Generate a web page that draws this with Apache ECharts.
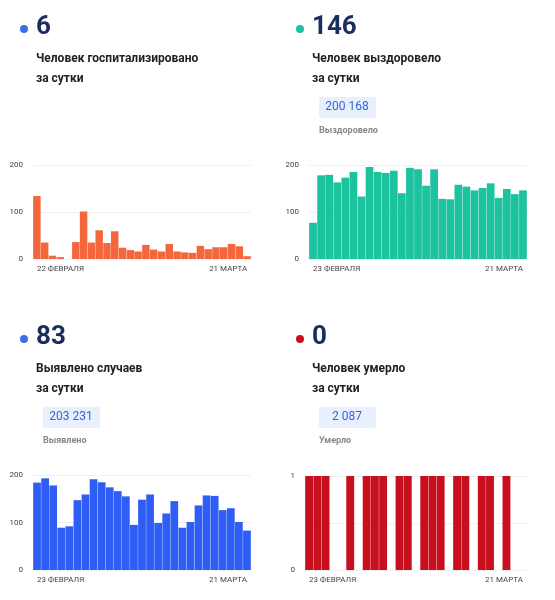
<!DOCTYPE html>
<html><head><meta charset="utf-8">
<script src="https://cdn.jsdelivr.net/npm/echarts@6/dist/echarts.min.js"></script>
<style>html,body{margin:0;background:#fff}#c{width:555px;height:600px}</style>
</head><body><div id="c"></div>
<script>
// daily values
const hospitalized = [134, 35, 7, 4, 0, 36, 101, 35, 61, 34, 59, 24, 19, 16, 30, 20, 16, 32, 16, 14, 13, 28, 21, 25, 25, 32, 27, 6]
const recovered = [77, 178, 179, 163, 173, 185, 133, 196, 185, 183, 188, 140, 194, 191, 156, 191, 128, 127, 158, 154, 146, 151, 161, 130, 149, 138, 146]
const cases = [184, 193, 178, 89, 92, 147, 159, 191, 185, 174, 166, 155, 95, 148, 159, 99, 119, 145, 89, 101, 136, 157, 156, 126, 130, 101, 83]
const deaths = [1, 1, 1, 0, 0, 1, 0, 1, 1, 1, 0, 1, 1, 0, 1, 1, 1, 0, 1, 1, 0, 1, 1, 0, 1, 0, 0]

function days(start, n) {
  let out = []
  for (let i = 0; i < n; i++) {
    let d = new Date(2021, 1, start + i)
    out.push(d.getDate() + ' ' + (d.getMonth() == 1 ? 'ФЕВРАЛЯ' : 'МАРТА'))
  }
  return out
}
const days22 = days(22, 28)
const days23 = days(23, 27)

const font = 'Roboto, sans-serif'
const grids = [
  { left: 33, width: 218, top: 165, height: 94 },
  { left: 309, width: 218, top: 165, height: 94 },
  { left: 33, width: 218, top: 475, height: 95 },
  { left: 305, width: 222, top: 476, height: 94 }
]
const cats = [days22, days23, days23, days23]
const vals = [hospitalized, recovered, cases, deaths]
const colors = ['#f4673d', '#1dc29f', '#2f5ef6', '#c70f1d']

const xAxis = cats.map((c, i) => ({
  type: 'category', gridIndex: i, data: c,
  axisLine: { show: false }, axisTick: { show: false },
  axisLabel: {
    interval: (idx) => idx == 0 || idx == c.length - 1,
    showMinLabel: true, showMaxLabel: true,
    alignMinLabel: 'left', alignMaxLabel: 'right',
    fontSize: 8, color: '#444', fontFamily: font, margin: 6
  }
}))
const yAxis = vals.map((v, i) => ({
  type: 'value', gridIndex: i, min: 0,
  max: i == 3 ? 1 : 200, interval: i == 3 ? 0.5 : 100,
  axisLabel: {
    fontSize: 8, color: '#444', fontFamily: font, margin: 10,
    formatter: (x) => (x == 0.5 ? '' : x)
  },
  splitLine: { lineStyle: { color: '#f0f0f0' } }
}))
const series = vals.map((v, i) => ({
  type: 'bar', xAxisIndex: i, yAxisIndex: i, data: v,
  barCategoryGap: '4%', itemStyle: { color: colors[i] }, silent: true
}))

function block(x, y, dot, num, l1, l2, box, boxLabel) {
  let els = [
    { type: 'circle', shape: { cx: x + 4, cy: y + 3, r: 4 }, style: { fill: dot } },
    { type: 'text', x: x + 16, y: y - 12, style: { text: num, font: 'bold 26px ' + font, fill: '#1b2c5e' } },
    { type: 'text', x: x + 16, y: y + 27, style: { text: l1, font: 'bold 12px ' + font, fill: '#222' } },
    { type: 'text', x: x + 16, y: y + 47, style: { text: l2, font: 'bold 12px ' + font, fill: '#222' } }
  ]
  if (box) {
    els.push({ type: 'rect', shape: { x: x + 23, y: y + 71, width: 57, height: 21, r: 2 }, style: { fill: '#e9f0fd' } })
    els.push({ type: 'text', x: x + 51, y: y + 81, style: { text: box, font: '12px ' + font, fill: '#3466d6', align: 'center', verticalAlign: 'middle' } })
    els.push({ type: 'text', x: x + 23, y: y + 100, style: { text: boxLabel, font: 'bold 9px ' + font, fill: '#888' } })
  }
  return els
}

const chart = echarts.init(document.getElementById('c'))
chart.setOption({
  animation: false,
  grid: grids,
  xAxis: xAxis,
  yAxis: yAxis,
  series: series,
  graphic: [].concat(
    block(20, 26, '#3c6fe6', '6', 'Человек госпитализировано', 'за сутки'),
    block(296, 26, '#1dc29f', '146', 'Человек выздоровело', 'за сутки', '200 168', 'Выздоровело'),
    block(20, 336, '#3c6fe6', '83', 'Выявлено случаев', 'за сутки', '203 231', 'Выявлено'),
    block(296, 336, '#c70f1d', '0', 'Человек умерло', 'за сутки', '2 087', 'Умерло')
  )
})
</script></body></html>
